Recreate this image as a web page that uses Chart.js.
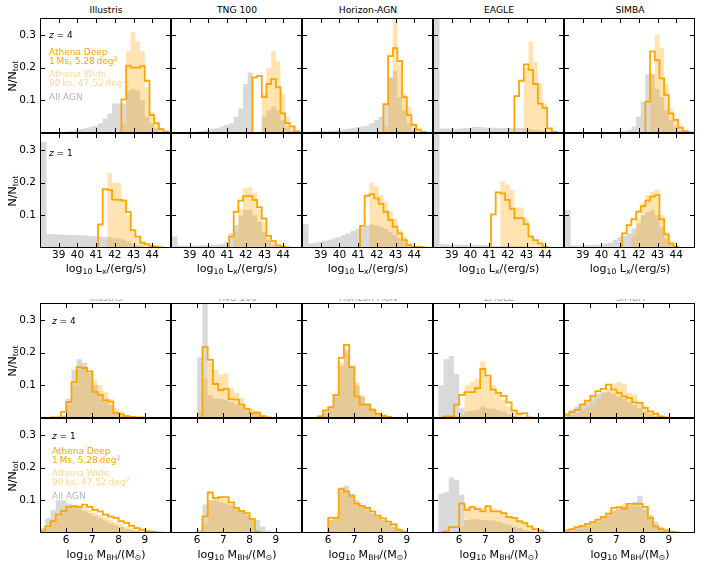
<!DOCTYPE html>
<html>
<head>
<meta charset="utf-8">
<title>AGN luminosity and black hole mass histograms</title>
<script src="https://cdn.jsdelivr.net/npm/chart.js@4.4.1/dist/chart.umd.min.js"></script>
<style>
  html, body { margin: 0; padding: 0; background: #fff; }
  #fig { position: relative; width: 726px; height: 565px; overflow: hidden;
         font-family: "DejaVu Sans", sans-serif; color: #000; }
  #fig canvas { position: absolute; }
  .txt { position: absolute; white-space: nowrap; line-height: 1; }
  .rot { transform: translate(-50%, -50%) rotate(-90deg); }
  .clip { position: absolute; left: 0; width: 726px; height: 2px; overflow: hidden; }
  sub { font-size: 70%; vertical-align: -0.3em; line-height: 0; }
  sup { font-size: 70%; vertical-align: 0.55em; line-height: 0; }
</style>
</head>
<body>
<div id="fig"></div>
<script>
(function () {
    "use strict";

    // bin edges (left edge of each bin, then the last right edge)
    var lxEdges = [37.85, 38.1, 38.35, 38.6, 38.85, 39.1, 39.35, 39.6, 39.85, 40.1,
        40.35, 40.6, 40.85, 41.1, 41.35, 41.6, 41.85, 42.1, 42.35, 42.6, 42.85,
        43.1, 43.35, 43.6, 43.85, 44.1, 44.35, 44.6, 44.85, 45.1];
    var mbhEdges = [5, 5.2, 5.4, 5.6, 5.8, 6, 6.2, 6.4, 6.6, 6.8, 7, 7.2, 7.4,
        7.6, 7.8, 8, 8.2, 8.4, 8.6, 8.8, 9, 9.2, 9.4, 9.6, 9.8, 10];

    var simNames = ["Illustris", "TNG 100", "Horizon-AGN", "EAGLE", "SIMBA"];
    var lxTicks = [39, 40, 41, 42, 43, 44];
    var mbhTicks = [6, 7, 8, 9];
    var nTicks = [0.1, 0.2, 0.3];

    // log Lx, z = 4
    var illLx4All  = [0,0,0,0,0,0,.005,.007,.01,.012,.015,.018,.022,.03,.045,.06,.09,.09,.09,.13,.135,.13,.1,.05,.03,.015,.005,.002,0];
    var illLx4Wide = [0,0,0,0,0,0,0,0,0,0,0,0,0,0,0,0,0,0,.03,.25,.31,.28,.25,.14,.065,.03,.012,.004,0];
    var illLx4Deep = [0,0,0,0,0,0,0,0,0,0,0,0,0,0,0,0,0,0,.103,.206,.2,.2,.205,.16,.055,.03,.012,.004,0];
    var tngLx4All  = [0,0,0,0,0,.003,.005,.007,.01,.012,.015,.02,.025,.03,.05,.075,.15,.185,.003,.003,.05,.07,.08,.07,.04,.02,.008,0,0];
    var tngLx4Wide = [0,0,0,0,0,0,0,0,0,0,0,0,0,0,0,0,0,0,0,0,.12,.2,.25,.22,.12,.05,.02,.005,0];
    var tngLx4Deep = [0,0,0,0,0,0,0,0,0,0,0,0,0,0,0,0,0,0,.17,.175,.11,.15,.165,.14,.06,.03,.02,.005,0];
    var horLx4All  = [0,0,.004,.004,.005,.006,.007,.008,.01,.011,.013,.015,.018,.02,.022,.03,.04,.05,.085,.17,.19,.11,.07,.03,.01,.004,0,0,0];
    var horLx4Wide = [0,0,0,0,0,0,0,0,0,0,0,0,0,0,0,0,0,0,.02,.17,.37,.21,.12,.08,.03,.01,0,0,0];
    var horLx4Deep = [0,0,0,0,0,0,0,0,0,0,0,0,0,0,0,0,0,0,.088,.235,.26,.22,.11,.055,.025,.01,.003,0,0];
    var eagLx4All  = [.4,.4,.014,.014,.013,.013,.014,.015,.016,.018,.018,.017,.016,.016,.015,.015,.015,.016,.016,.015,.014,.012,.01,.008,.006,.004,.002,0,0];
    var eagLx4Wide = [0,0,0,0,0,0,0,0,0,0,0,0,0,0,0,0,0,0,0,0,.2,.28,.218,.152,.09,.015,.003,0,0];
    var eagLx4Deep = [0,0,0,0,0,0,0,0,0,0,0,0,0,0,0,0,0,0,.113,.16,.21,.193,.15,.09,.077,.014,.003,0,0];
    var simLx4All  = [0,0,0,0,0,0,0,0,0,0,.002,.003,.004,.006,.01,.02,.05,.095,.18,.18,.135,.11,.07,.04,.02,.008,.003,0,0];
    var simLx4Wide = [0,0,0,0,0,0,0,0,0,0,0,0,0,0,0,0,0,0,0,.18,.3,.26,.15,.075,.04,.02,.008,0,0];
    var simLx4Deep = [0,0,0,0,0,0,0,0,0,0,0,0,0,0,0,0,0,0,.096,.25,.223,.167,.116,.06,.04,.016,.006,.002,0];

    // log Lx, z = 1
    var illLx1All  = [.325,.325,.042,.042,.041,.041,.04,.04,.04,.039,.038,.037,.036,.035,.034,.033,.03,.028,.025,.02,.014,.009,.005,.003,0,0,0,0,0];
    var illLx1Wide = [0,0,0,0,0,0,0,0,0,0,0,0,0,0,0,.23,.2,.2,.15,.1,.055,.03,.015,.01,.005,0,0,0,0];
    var illLx1Deep = [0,0,0,0,0,0,0,0,0,0,0,0,0,.072,.18,.178,.148,.147,.145,.11,.055,.035,.016,.012,.006,.004,.002,0,0];
    var tngLx1All  = [.035,.035,.008,.008,.008,.008,.008,.009,.009,.01,.01,.012,.02,.045,.07,.1,.116,.116,.1,.08,.05,.025,.01,.004,0,0,0,0,0];
    var tngLx1Wide = [0,0,0,0,0,0,0,0,0,0,0,0,0,0,.05,.12,.185,.186,.17,.12,.08,.035,.02,.008,0,0,0,0,0];
    var tngLx1Deep = [0,0,0,0,0,0,0,0,0,0,0,0,0,.035,.111,.145,.159,.159,.147,.125,.09,.037,.022,.008,.004,.002,0,0,0];
    var horLx1All  = [.073,.073,.014,.016,.02,.022,.025,.03,.034,.04,.045,.052,.058,.063,.07,.072,.07,.065,.058,.048,.04,.03,.02,.012,.005,.002,0,0,0];
    var horLx1Wide = [0,0,0,0,0,0,0,0,0,0,0,0,0,0,0,.2,.188,.162,.142,.111,.09,.055,.035,.015,.005,0,0,0,0];
    var horLx1Deep = [0,0,0,0,0,0,0,0,0,0,0,0,0,.068,.16,.165,.152,.135,.111,.086,.065,.045,.024,.009,.004,.003,.002,0,0];
    var eagLx1All  = [.4,.4,.012,.011,.011,.01,.01,.01,.01,.01,.009,.009,.009,.006,.006,.006,.006,.005,.005,.005,.004,.003,.002,.001,0,0,0,0,0];
    var eagLx1Wide = [0,0,0,0,0,0,0,0,0,0,0,0,0,0,0,.206,.195,.178,.125,.124,.09,.04,.025,.014,.004,0,0,0,0];
    var eagLx1Deep = [0,0,0,0,0,0,0,0,0,0,0,0,0,.103,.17,.167,.147,.12,.091,.091,.073,.035,.024,.014,.004,0,0,0,0];
    var simLx1All  = [.116,.116,.008,.008,.008,.009,.009,.01,.011,.014,.016,.025,.033,.037,.045,.06,.075,.1,.11,.116,.1,.065,.03,.012,.004,0,0,0,0];
    var simLx1Wide = [0,0,0,0,0,0,0,0,0,0,0,0,0,0,0,.04,.09,.137,.162,.172,.178,.1,.05,.018,.005,0,0,0,0];
    var simLx1Deep = [0,0,0,0,0,0,0,0,0,0,0,0,0,.045,.07,.088,.111,.128,.145,.157,.162,.088,.042,.014,.004,0,0,0,0];

    // log MBH, z = 4
    var illM4All  = [0,0,0,0,.01,.06,.148,.18,.168,.138,.1,.075,.055,.04,.02,.012,.006,.003,0,0,0,0,0,0,0];
    var illM4Wide = [0,0,0,0,.005,.04,.1,.15,.15,.14,.115,.1,.08,.06,.03,.02,.01,.005,0,0,0,0,0,0,0];
    var illM4Deep = [0,0,.002,.002,.018,.049,.11,.156,.153,.143,.08,.071,.055,.05,.015,.012,.006,.003,.002,.002,0,0,0,0,0];
    var tngM4All  = [0,0,0,0,0,.186,.4,.07,.06,.058,.055,.05,.042,.035,.025,.02,.012,.006,.002,0,0,0,0,0,0];
    var tngM4Wide = [0,0,0,0,0,.02,.12,.17,.148,.133,.137,.092,.077,.061,.031,.028,.02,.01,.003,0,0,0,0,0,0];
    var tngM4Deep = [0,0,0,0,0,0,.217,.178,.104,.085,.089,.058,.056,.041,.028,.014,.016,.006,.002,0,0,0,0,0,0];
    var horM4All  = [0,0,0,.008,.02,.035,.07,.16,.21,.16,.1,.065,.045,.03,.015,.007,.003,0,0,0,0,0,0,0,0];
    var horM4Wide = [0,0,0,0,.015,.03,.065,.17,.2,.16,.11,.07,.045,.03,.015,.007,.003,0,0,0,0,0,0,0,0];
    var horM4Deep = [0,0,0,.005,.023,.033,.071,.184,.224,.156,.066,.041,.041,.025,.013,.007,.003,0,0,0,0,0,0,0,0];
    var eagM4All  = [0,.1,.18,.19,.135,.03,.02,.022,.025,.035,.03,.028,.024,.02,.012,.006,.003,0,0,0,0,0,0,0,0];
    var eagM4Wide = [0,0,0,0,.005,.01,.1,.11,.12,.173,.125,.1,.075,.055,.035,.02,.01,.005,0,0,0,0,0,0,0];
    var eagM4Deep = [0,0,.005,.005,.041,.071,.079,.079,.091,.15,.13,.087,.077,.068,.048,.023,.013,.015,.002,0,0,0,0,0,0];
    var simM4All  = [.015,.025,.035,.045,.055,.065,.075,.08,.08,.075,.065,.06,.05,.04,.03,.02,.012,.006,0,0,0,0,0,0,0];
    var simM4Wide = [.005,.01,.015,.025,.035,.045,.06,.075,.09,.105,.11,.105,.077,.073,.046,.036,.025,.015,.006,0,0,0,0,0,0];
    var simM4Deep = [.01,.018,.025,.041,.053,.068,.082,.089,.102,.087,.077,.066,.061,.048,.046,.031,.02,.013,.005,.002,0,0,0,0,0];

    // log MBH, z = 1
    var illM1All  = [.015,.045,.07,.1,.1,.09,.085,.075,.068,.06,.052,.045,.038,.03,.024,.018,.013,.009,.006,.004,.002,0,0,0,0];
    var illM1Wide = [.005,.015,.03,.05,.065,.075,.08,.082,.08,.072,.062,.055,.048,.04,.033,.027,.02,.015,.01,.006,.004,.002,0,0,0];
    var illM1Deep = [.007,.02,.036,.056,.068,.08,.082,.08,.087,.08,.071,.066,.056,.05,.046,.036,.031,.022,.015,.01,.006,.004,.002,.001,0];
    var tngM1All  = [0,0,0,0,0,.01,.087,.1,.1,.095,.09,.085,.075,.065,.055,.045,.04,.02,.008,0,0,0,0,0,0];
    var tngM1Wide = [0,0,0,0,0,0,.03,.1,.11,.11,.105,.09,.08,.07,.06,.045,.01,0,0,0,0,0,0,0,0];
    var tngM1Deep = [0,0,0,0,0,0,.051,.124,.107,.11,.11,.094,.077,.068,.061,.043,.003,0,0,0,0,0,0,0,0];
    var horM1All  = [0,0,0,0,0,.04,.05,.14,.145,.12,.1,.085,.075,.062,.05,.04,.03,.02,.01,.004,0,0,0,0,0];
    var horM1Wide = [0,0,0,0,0,.04,.048,.128,.125,.11,.09,.08,.07,.06,.05,.04,.03,.02,.008,.003,0,0,0,0,0];
    var horM1Deep = [0,0,0,0,0,.046,.046,.134,.127,.114,.09,.083,.077,.066,.053,.045,.035,.026,.01,.004,0,0,0,0,0];
    var eagM1All  = [0,.12,.125,.17,.163,.117,.04,.042,.042,.04,.04,.038,.035,.03,.025,.02,.015,.01,.006,.003,0,0,0,0,0];
    var eagM1Wide = [0,0,0,0,.005,.02,.08,.085,.08,.078,.08,.075,.07,.062,.05,.045,.035,.028,.018,.01,.005,0,0,0,0];
    var eagM1Deep = [0,0,.005,.018,.018,.09,.071,.079,.073,.066,.082,.066,.066,.061,.049,.046,.036,.031,.02,.012,.008,.002,0,0,0];
    var simM1All  = [.01,.012,.018,.022,.027,.032,.04,.048,.057,.07,.075,.08,.085,.095,.114,.075,.055,.035,.018,.008,.003,0,0,0,0];
    var simM1Wide = [.005,.008,.012,.017,.022,.028,.035,.045,.055,.07,.075,.09,.085,.085,.08,.07,.045,.022,.012,.006,.003,0,0,0,0];
    var simM1Deep = [.008,.012,.018,.022,.028,.033,.041,.049,.059,.077,.079,.075,.089,.089,.089,.08,.046,.02,.012,.008,.004,.002,0,0,0];

    var panelW = 131, panelH = 115;
    var colLeft = [40, 171, 302, 433, 564];

    var rows = [
        { top: 18, edges: lxEdges, xMin: 38, xMax: 45, ticks: lxTicks, labels: false,
          sets: [[illLx4All, illLx4Wide, illLx4Deep], [tngLx4All, tngLx4Wide, tngLx4Deep],
                 [horLx4All, horLx4Wide, horLx4Deep], [eagLx4All, eagLx4Wide, eagLx4Deep],
                 [simLx4All, simLx4Wide, simLx4Deep]] },
        { top: 133, edges: lxEdges, xMin: 38, xMax: 45, ticks: lxTicks, labels: true,
          sets: [[illLx1All, illLx1Wide, illLx1Deep], [tngLx1All, tngLx1Wide, tngLx1Deep],
                 [horLx1All, horLx1Wide, horLx1Deep], [eagLx1All, eagLx1Wide, eagLx1Deep],
                 [simLx1All, simLx1Wide, simLx1Deep]] },
        { top: 303, edges: mbhEdges, xMin: 5, xMax: 10, ticks: mbhTicks, labels: false,
          sets: [[illM4All, illM4Wide, illM4Deep], [tngM4All, tngM4Wide, tngM4Deep],
                 [horM4All, horM4Wide, horM4Deep], [eagM4All, eagM4Wide, eagM4Deep],
                 [simM4All, simM4Wide, simM4Deep]] },
        { top: 418, edges: mbhEdges, xMin: 5, xMax: 10, ticks: mbhTicks, labels: true,
          sets: [[illM1All, illM1Wide, illM1Deep], [tngM1All, tngM1Wide, tngM1Deep],
                 [horM1All, horM1Wide, horM1Deep], [eagM1All, eagM1Wide, eagM1Deep],
                 [simM1All, simM1Wide, simM1Deep]] }
    ];

    var fig = document.getElementById("fig");

    // histogram -> step points, each point holds its value up to the next edge
    function steps(edges, values, trim) {
        var first = 0, last = values.length - 1;
        if (trim) {
            while (first < last && !values[first]) first++;
            while (last > first && !values[last]) last--;
        }
        var pts = [{ x: edges[first], y: 0 }];
        for (var i = first; i <= last; i++) {
            pts.push({ x: edges[i], y: values[i] });
        }
        pts.push({ x: edges[last + 1], y: 0 });
        return pts;
    }

    // frame, inward ticks on all four sides, tick labels
    var panelFrame = {
        id: "panelFrame",
        afterDraw: function (chart, args, o) {
            var ctx = chart.ctx, a = chart.chartArea;
            var sx = chart.scales.x, sy = chart.scales.y;
            ctx.save();
            ctx.strokeStyle = "#000";
            ctx.lineWidth = 1;
            ctx.beginPath();
            o.xTicks.forEach(function (v) {
                var px = Math.round(sx.getPixelForValue(v)) + 0.5;
                ctx.moveTo(px, a.top); ctx.lineTo(px, a.top + 5);
                ctx.moveTo(px, a.bottom); ctx.lineTo(px, a.bottom - 5);
            });
            nTicks.forEach(function (v) {
                var py = Math.round(sy.getPixelForValue(v)) + 0.5;
                ctx.moveTo(a.left, py); ctx.lineTo(a.left + 5, py);
                ctx.moveTo(a.right, py); ctx.lineTo(a.right - 5, py);
            });
            ctx.stroke();
            ctx.strokeRect(a.left + 0.5, a.top + 0.5, a.right - a.left - 1, a.bottom - a.top - 1);

            ctx.fillStyle = "#000";
            ctx.font = '10.5px "DejaVu Sans", sans-serif';
            if (o.xLabels) {
                ctx.textAlign = "center";
                ctx.textBaseline = "middle";
                o.xTicks.forEach(function (v) {
                    ctx.fillText(String(v), sx.getPixelForValue(v), a.bottom + 7);
                });
            }
            if (o.yLabels) {
                ctx.textAlign = "right";
                ctx.textBaseline = "middle";
                nTicks.forEach(function (v) {
                    ctx.fillText(v.toFixed(1), a.left - 4, sy.getPixelForValue(v));
                });
            }
            ctx.restore();
        }
    };

    rows.forEach(function (row) {
        row.sets.forEach(function (set, c) {
            var padL = c === 0 ? 40 : 0;
            var padB = row.labels ? 20 : 0;
            var w = panelW + padL, h = panelH + padB;
            var cv = document.createElement("canvas");
            cv.width = w;
            cv.height = h;
            cv.style.width = w + "px";
            cv.style.height = h + "px";
            cv.style.left = (colLeft[c] - padL) + "px";
            cv.style.top = row.top + "px";
            fig.appendChild(cv);

            new Chart(cv, {
                type: "line",
                data: {
                    datasets: [
                        { data: steps(row.edges, set[2], true), stepped: true, fill: false,
                          borderColor: "#ffa500", borderWidth: 1.8, pointRadius: 0 },
                        { data: steps(row.edges, set[1]), stepped: true, fill: "origin",
                          backgroundColor: "rgba(255,165,0,0.3)", borderColor: "rgba(0,0,0,0)",
                          borderWidth: 0, pointRadius: 0 },
                        { data: steps(row.edges, set[0]), stepped: true, fill: "origin",
                          backgroundColor: "rgba(128,128,128,0.3)", borderColor: "rgba(0,0,0,0)",
                          borderWidth: 0, pointRadius: 0 }
                    ]
                },
                options: {
                    responsive: false,
                    animation: false,
                    events: [],
                    layout: { padding: { left: padL, bottom: padB, top: 0, right: 0 } },
                    plugins: {
                        legend: { display: false },
                        tooltip: { enabled: false },
                        panelFrame: { xTicks: row.ticks, xLabels: row.labels, yLabels: c === 0 }
                    },
                    scales: {
                        x: { type: "linear", display: false, min: row.xMin, max: row.xMax },
                        y: { type: "linear", display: false, min: 0, max: 0.352 }
                    }
                },
                plugins: [panelFrame]
            });
        });
    });

    // texts, placed on whole pixels so they stay sharp
    function text(html, x, y, anchor, size, color, parent) {
        var d = document.createElement("div");
        d.className = "txt";
        d.innerHTML = html;
        d.style.fontSize = size + "px";
        if (color) d.style.color = color;
        d.style.top = Math.round(y - size / 2) + "px";
        if (anchor === "c") {
            d.style.left = Math.round(x - 150) + "px";
            d.style.width = "300px";
            d.style.textAlign = "center";
        } else {
            d.style.left = Math.round(x) + "px";
        }
        (parent || fig).appendChild(d);
        return d;
    }

    simNames.forEach(function (name, c) {
        var cx = colLeft[c] + panelW / 2;
        text(name, cx, 10, "c", 9.2);
        text("log<sub>10</sub> L<sub>x</sub>/(erg/s)", cx, 268, "c", 11);
        text("log<sub>10</sub> M<sub>BH</sub>/(M<sub>\u2299</sub>)", cx, 554, "c", 11);
    });

    // titles of the lower block, mostly hidden
    var clip = document.createElement("div");
    clip.className = "clip";
    clip.style.top = "299px";
    fig.appendChild(clip);
    simNames.forEach(function (name, c) {
        text(name, colLeft[c] + panelW / 2, -1.5, "c", 9.2, "#9a9a9a", clip);
    });

    [75.5, 190.5, 360.5, 475.5].forEach(function (cy) {
        var d = document.createElement("div");
        d.className = "txt rot";
        d.innerHTML = "N/N<sub>tot</sub>";
        d.style.fontSize = "11px";
        d.style.left = "12px";
        d.style.top = cy + "px";
        fig.appendChild(d);
    });

    text("<i>z</i> = 4", 49, 35.5, "l", 9);
    text("<i>z</i> = 1", 49, 153, "l", 9);
    text("<i>z</i> = 4", 52, 321.5, "l", 9);
    text("<i>z</i> = 1", 52, 436, "l", 9);

    function legend(x, y0) {
        text("Athena Deep", x, y0, "l", 9, "#ffa500");
        text("1\u2009Ms, 5.28\u2009deg<sup>2</sup>", x, y0 + 9, "l", 9, "#ffa500");
        text("Athena Wide", x, y0 + 22, "l", 9, "#ffd592");
        text("90\u2009ks, 47.52\u2009deg<sup>2</sup>", x, y0 + 31, "l", 9, "#ffd592");
        text("All AGN", x, y0 + 45, "l", 9, "#b4b4b4");
    }
    legend(49, 52.3);
    legend(52, 451.7);
})();
</script>
</body>
</html>
